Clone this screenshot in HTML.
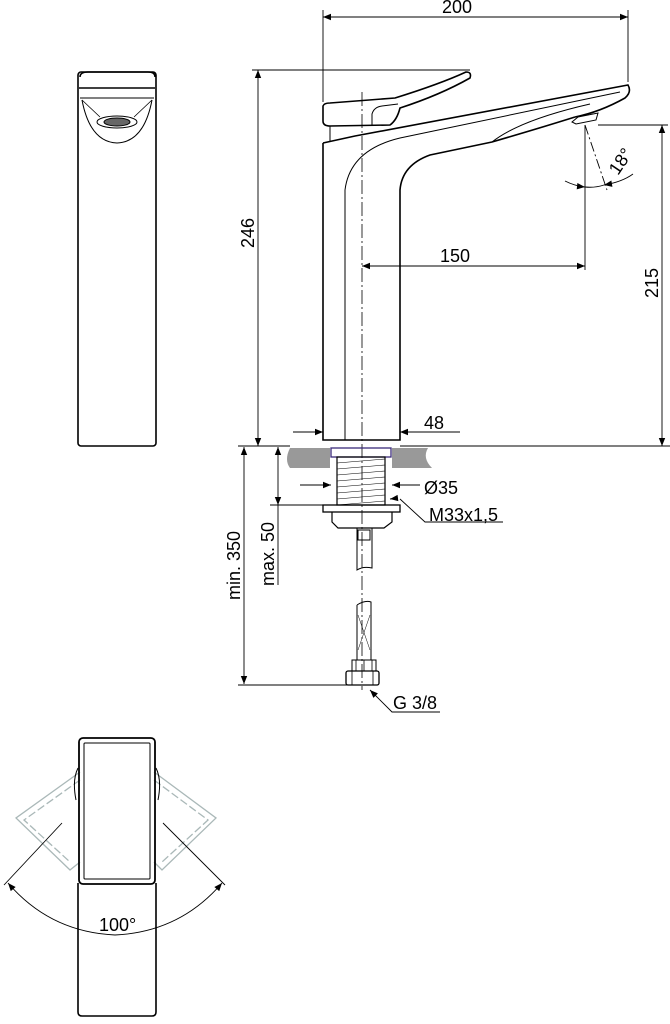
<!DOCTYPE html>
<html><head><meta charset="utf-8"><style>
html,body{margin:0;padding:0;background:#fff;}
svg{display:block;}
text{font-family:"Liberation Sans",Arial,sans-serif;font-size:18px;fill:#000;}
</style></head><body>
<svg width="670" height="1024" viewBox="0 0 670 1024" xmlns="http://www.w3.org/2000/svg">
<defs>
<marker id="a" viewBox="0 0 10 10" refX="10" refY="5" markerWidth="10" markerHeight="8" orient="auto-start-reverse" markerUnits="userSpaceOnUse"><path d="M0,1 L10,5 L0,9 z" fill="#000"/></marker>
</defs>
<g fill="none" stroke="#000" stroke-width="1.6">
<rect x="78" y="72" width="78" height="374" rx="3"/>
<path d="M79,88 L155,88"/>
<path d="M80,77 Q80,72 88,72 L148,72 Q155,72 155,77"/>
<path d="M80,98 L154,98" stroke-width="1"/>
<path d="M82,100 Q90,142 117,143 Q144,142 152,100" stroke-width="1"/>
<path d="M82,100 L100,117 M152,100 L134,117" stroke-width="0.8"/>
<ellipse cx="117" cy="122" rx="20" ry="6" stroke-width="1"/>
<ellipse cx="117" cy="122" rx="13" ry="4" fill="#666" stroke-width="1"/>

<path d="M323,143 L323,440 L400,440 L400,190 Q402,165 430,155 L492,142 Q540,128 575,117"/>
<path d="M323,143 L355,136 L628,85 Q632,92 625,98 Q600,112 575,117"/>
<path d="M345,440 L345,190 Q350,150 400,138 L620,92" stroke-width="1"/>
<path d="M492,142 Q520,120 590,104" stroke-width="1"/>
<path d="M323,106 Q324,103 330,103 L395,98 Q440,84 466,72 Q472,72 470,78 Q440,95 400,108 Q397,120 390,125 L330,126 Q323,126 323,121 Z"/>
<path d="M372,125 L372,114 Q374,107 382,106 L398,104" stroke-width="1"/>
<path d="M330,126 L330,142" stroke-width="1"/>
<path d="M572,122 L578,117 L598,113 L596,120 L576,124 Z" stroke-width="1"/>

<path d="M362,92 L362,690" stroke-width="0.8" stroke-dasharray="14,3,2,3"/>

<g stroke-width="0.9">
<path d="M323,10 L323,102 M628,10 L628,82"/>
<path d="M323,17 L628,17" marker-start="url(#a)" marker-end="url(#a)"/>
<path d="M252,70 L470,70"/>
<path d="M258,70 L258,446" marker-start="url(#a)" marker-end="url(#a)"/>
<path d="M238,446 L290,446 M400,446 L670,446"/>
<path d="M598,125 L668,125"/>
<path d="M662,125 L662,446" marker-start="url(#a)" marker-end="url(#a)"/>
<path d="M585,125 L585,270"/>
<path d="M362,266 L585,266" marker-start="url(#a)" marker-end="url(#a)"/>
<path d="M585,125 L607,190" stroke-dasharray="10,3,2,3"/>
<path d="M565,181 Q575,186 585,187" marker-end="url(#a)"/>
<path d="M633,174 Q622,182 604,185" marker-end="url(#a)"/>
<path d="M585,187 Q595,188 604,185"/>
<path d="M293,432 L323,432" marker-end="url(#a)"/>
<path d="M460,432 L400,432" marker-end="url(#a)"/>
<path d="M300,485 L331,485" marker-end="url(#a)"/>
<path d="M420,485 L392,485" marker-end="url(#a)"/>
<path d="M503,522 L425,522 L400,499"/>
<path d="M398,498 L390,499" marker-end="url(#a)"/>
<path d="M270,505 L330,505"/>
<path d="M278,447 L278,505" marker-start="url(#a)" marker-end="url(#a)"/>
<path d="M278,505 L278,585"/>
<path d="M244,447 L244,684" marker-start="url(#a)" marker-end="url(#a)"/>
<path d="M238,685 L348,685"/>
<path d="M440,712 L392,712 L370,690" marker-end="url(#a)"/>
</g>

<path d="M290,448 L330,448 L330,468 L290,468 Q284,460 290,448 Z" fill="#999" stroke="none"/>
<path d="M392,448 L428,448 Q422,458 432,468 L392,468 Z" fill="#999" stroke="none"/>
<rect x="331" y="448" width="60" height="9" stroke="#3a2a7a" stroke-width="1.3"/>
<rect x="337" y="457" width="48" height="48" stroke-width="1.2"/>
<path d="M337,463 L385,459 M337,469 L385,465 M337,475 L385,471 M337,481 L385,477 M337,487 L385,483 M337,493 L385,489 M337,499 L385,495 M337,505 L385,501" stroke-width="0.6"/>
<rect x="323" y="505" width="77" height="7" stroke-width="1.3"/>
<path d="M332,512 L332,522 L338,528 L384,528 L392,522 L392,512" stroke-width="1.2"/>
<path d="M357,528 L357,570 Q363,566 372,568 L372,528" stroke-width="1"/>
<rect x="358" y="530" width="12" height="10" stroke-width="1"/>
<path d="M357,605 L357,660 L371,660 L371,602 Q365,600 357,605" stroke-width="1"/>
<path d="M358,615 L370,650 M370,615 L358,650" stroke-width="0.5"/>
<rect x="352" y="660" width="24" height="11" stroke-width="1"/>
<path d="M356,660 L356,671 M364,660 L364,671 M372,660 L372,671" stroke-width="0.8"/>
<rect x="346" y="671" width="33" height="14" rx="2" stroke-width="1.3"/>
<path d="M352,671 L352,685 M373,671 L373,685" stroke-width="0.8"/>

<path d="M78,883 L78,1012 Q78,1016 82,1016 L152,1016 Q156,1016 156,1012 L156,883"/>
<g stroke="#aab8b8" stroke-width="1.3">
<path d="M80,772 L16,818 L70,870 L80,862" />
<path d="M80,780 L24,820 L70,862" stroke-dasharray="8,3"/>
<path d="M154,772 L216,818 L162,870 L154,862"/>
<path d="M154,780 L208,820 L162,862" stroke-dasharray="8,3"/>
</g>
<path d="M78,768 Q72,780 76,800 M156,768 Q162,780 158,800" stroke-width="1"/>
<rect x="79" y="738" width="76" height="146" rx="4" stroke-width="1.8"/>
<rect x="84" y="743" width="66" height="136" rx="1" stroke-width="1"/>
<g stroke-width="0.9">
<path d="M62,823 L4,885"/>
<path d="M163,823 L225,885"/>
<path d="M115,935 Q50,932 8,883" marker-end="url(#a)"/>
<path d="M115,935 Q180,932 222,883" marker-end="url(#a)"/>
</g>
</g>
<text x="442" y="13">200</text>
<text transform="translate(254,248) rotate(-90)">246</text>
<text transform="translate(658,298) rotate(-90)">215</text>
<text x="440" y="262">150</text>
<text transform="translate(618,176) rotate(-56)">18°</text>
<text x="424" y="429">48</text>
<text x="424" y="494">Ø35</text>
<text x="429" y="521">M33x1,5</text>
<text transform="translate(274,586) rotate(-90)">max. 50</text>
<text transform="translate(240,600) rotate(-90)">min. 350</text>
<text x="393" y="709">G 3/8</text>
<text x="99" y="931">100°</text>
</svg>
</body></html>
